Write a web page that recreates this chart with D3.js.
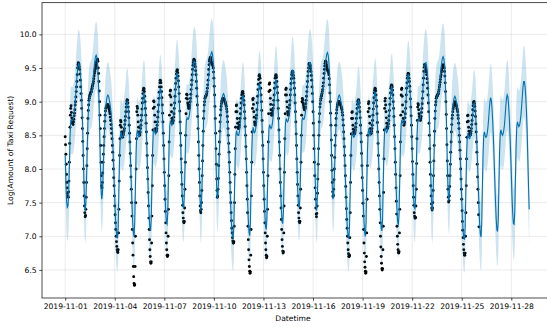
<!DOCTYPE html>
<html>
<head>
<meta charset="utf-8">
<script src="https://cdn.jsdelivr.net/npm/d3@7"></script>
<style>
body { margin: 0; background: #fff; }
svg { display: block; font-family: "DejaVu Sans", sans-serif; }
</style>
</head>
<body>
<script>
// Series start (UTC)
var startDate = "2019-11-01T00:00:00Z";

// Observed log counts (black dots), every 30 minutes, one row per day,
// Nov 1 .. Nov 26 01:00
var observed = [
    [8.48,8.36,8.22,8.07,7.92,7.8,7.72,7.64,7.6,7.58,7.66,7.82,8.1,8.38,8.62,8.8,8.9,8.94,8.84,8.76,8.72,8.68,8.7,8.66,8.7,8.74,8.79,8.83,8.88,8.95,9.0,9.07,9.15,9.22,9.3,9.4,9.5,9.55,9.58,9.57,9.55,9.52,9.48,9.41,9.32,9.22,9.12,9.02],
    [8.9,8.76,8.6,8.41,8.2,8.0,7.8,7.6,7.45,7.35,7.29,7.31,7.4,7.58,7.8,8.05,8.3,8.53,8.75,8.87,8.95,9.02,9.05,9.08,9.1,9.11,9.13,9.14,9.15,9.18,9.2,9.23,9.25,9.27,9.3,9.34,9.38,9.42,9.45,9.48,9.5,9.53,9.55,9.58,9.6,9.62,9.63,9.6],
    [9.5,9.42,9.3,9.16,9.0,8.8,8.6,8.35,8.1,7.9,7.75,7.72,7.8,7.94,8.1,8.22,8.35,8.48,8.6,8.71,8.8,8.86,8.9,8.92,8.92,8.94,8.95,8.96,8.95,8.94,8.93,8.9,8.88,8.85,8.82,8.77,8.72,8.66,8.6,8.53,8.45,8.35,8.25,8.13,8.0,7.87,7.75,7.6],
    [7.45,7.32,7.2,7.1,7.0,6.92,6.85,6.8,6.77,6.76,6.8,7.05,7.4,7.82,8.2,8.45,8.65,8.72,8.7,8.62,8.55,8.51,8.5,8.47,8.5,8.52,8.55,8.57,8.6,8.66,8.72,8.78,8.85,8.92,8.97,9.01,9.03,9.02,8.98,8.92,8.85,8.76,8.65,8.53,8.4,8.23,8.05,7.88],
    [7.7,7.5,7.3,7.1,6.9,6.72,6.55,6.4,6.3,6.27,6.28,6.55,7.0,7.5,8.0,8.45,8.85,8.93,8.9,8.8,8.7,8.62,8.55,8.5,8.5,8.52,8.55,8.6,8.65,8.72,8.8,8.89,8.98,9.05,9.12,9.17,9.2,9.19,9.15,9.08,9.0,8.9,8.8,8.68,8.55,8.38,8.2,8.02],
    [7.85,7.65,7.45,7.27,7.1,6.95,6.8,6.7,6.62,6.6,6.62,6.9,7.3,7.75,8.2,8.58,8.9,9.01,9.0,8.92,8.8,8.7,8.6,8.57,8.55,8.57,8.6,8.65,8.7,8.77,8.85,8.95,9.05,9.14,9.22,9.28,9.32,9.31,9.28,9.22,9.15,9.06,8.95,8.83,8.7,8.53,8.35,8.15],
    [7.95,7.75,7.55,7.37,7.2,7.05,6.9,6.8,6.72,6.7,6.72,7.0,7.4,7.9,8.4,8.8,9.1,9.16,9.17,9.07,8.95,8.85,8.75,8.71,8.68,8.7,8.72,8.77,8.82,8.9,8.98,9.08,9.18,9.27,9.35,9.41,9.45,9.47,9.47,9.43,9.38,9.31,9.22,9.12,9.0,8.86,8.7,8.53],
    [8.35,8.15,7.95,7.77,7.6,7.46,7.35,7.27,7.22,7.2,7.22,7.42,7.7,8.1,8.5,8.82,9.05,9.11,9.1,9.04,8.98,8.95,8.92,8.9,8.9,8.92,8.95,9.0,9.05,9.11,9.18,9.25,9.32,9.4,9.48,9.54,9.58,9.61,9.63,9.62,9.6,9.56,9.52,9.46,9.4,9.3,9.2,9.08],
    [8.95,8.78,8.6,8.4,8.2,8.0,7.8,7.6,7.45,7.38,7.35,7.4,7.5,7.68,7.9,8.12,8.35,8.56,8.75,8.86,8.95,9.0,9.05,9.07,9.08,9.09,9.1,9.12,9.15,9.2,9.25,9.32,9.4,9.48,9.55,9.6,9.63,9.65,9.66,9.63,9.6,9.58,9.57,9.56,9.55,9.53,9.5,9.44],
    [9.35,9.23,9.1,8.93,8.75,8.53,8.3,8.07,7.85,7.68,7.58,7.6,7.7,7.86,8.05,8.22,8.4,8.56,8.7,8.8,8.88,8.93,8.97,9.0,9.02,9.04,9.05,9.05,9.05,9.04,9.03,9.02,9.0,8.99,8.97,8.95,8.93,8.89,8.85,8.78,8.7,8.6,8.5,8.38,8.25,8.1,7.95,7.8],
    [7.65,7.5,7.35,7.23,7.12,7.05,6.98,6.93,6.9,6.9,6.92,7.15,7.5,7.92,8.3,8.62,8.85,8.94,8.95,8.85,8.75,8.68,8.62,8.6,8.6,8.62,8.65,8.7,8.75,8.82,8.9,8.98,9.05,9.1,9.13,9.15,9.15,9.12,9.08,9.02,8.95,8.85,8.75,8.63,8.5,8.33,8.15,7.95],
    [7.75,7.55,7.35,7.15,6.95,6.8,6.65,6.55,6.48,6.45,6.47,6.72,7.1,7.6,8.1,8.55,8.9,9.03,9.05,8.96,8.85,8.77,8.7,8.67,8.65,8.67,8.7,8.75,8.8,8.88,8.98,9.08,9.18,9.26,9.33,9.38,9.4,9.38,9.35,9.28,9.2,9.1,9.0,8.87,8.72,8.55,8.35,8.15],
    [7.95,7.75,7.55,7.37,7.2,7.05,6.9,6.8,6.72,6.68,6.7,7.0,7.4,7.9,8.4,8.82,9.15,9.26,9.28,9.17,9.05,8.96,8.88,8.83,8.8,8.8,8.82,8.86,8.9,8.95,9.02,9.1,9.2,9.28,9.35,9.38,9.4,9.39,9.36,9.3,9.22,9.13,9.02,8.9,8.75,8.58,8.4,8.2],
    [8.0,7.8,7.6,7.42,7.25,7.1,6.95,6.85,6.78,6.75,6.77,7.05,7.45,7.95,8.45,8.82,9.1,9.18,9.2,9.1,9.0,8.92,8.85,8.82,8.8,8.82,8.85,8.9,8.95,9.02,9.1,9.18,9.27,9.34,9.4,9.43,9.45,9.45,9.43,9.39,9.35,9.28,9.2,9.1,8.98,8.85,8.7,8.52],
    [8.35,8.15,7.95,7.77,7.6,7.46,7.35,7.27,7.22,7.2,7.22,7.42,7.7,8.1,8.5,8.8,9.0,9.05,9.03,8.98,8.95,8.92,8.9,8.88,8.88,8.9,8.92,8.97,9.02,9.08,9.15,9.22,9.3,9.38,9.45,9.5,9.55,9.57,9.57,9.55,9.53,9.49,9.45,9.39,9.32,9.22,9.12,9.0],
    [8.85,8.68,8.5,8.3,8.1,7.9,7.72,7.55,7.42,7.33,7.29,7.34,7.45,7.64,7.85,8.07,8.3,8.5,8.7,8.82,8.92,8.97,9.02,9.05,9.08,9.1,9.12,9.15,9.18,9.23,9.28,9.35,9.42,9.48,9.53,9.57,9.6,9.6,9.58,9.55,9.52,9.49,9.47,9.46,9.45,9.43,9.4,9.34],
    [9.25,9.13,9.0,8.83,8.65,8.43,8.2,7.98,7.8,7.66,7.59,7.61,7.7,7.84,8.0,8.17,8.35,8.5,8.65,8.75,8.83,8.88,8.92,8.95,8.97,8.99,9.0,9.0,9.0,8.99,8.98,8.97,8.95,8.94,8.92,8.9,8.88,8.84,8.8,8.73,8.65,8.55,8.45,8.33,8.2,8.05,7.9,7.74],
    [7.58,7.41,7.25,7.12,7.0,6.9,6.8,6.74,6.7,6.7,6.72,6.98,7.35,7.8,8.2,8.52,8.75,8.84,8.85,8.75,8.65,8.59,8.55,8.52,8.52,8.53,8.55,8.58,8.62,8.68,8.75,8.82,8.9,8.96,9.0,9.02,9.03,9.01,8.98,8.92,8.85,8.76,8.65,8.53,8.4,8.23,8.05,7.87],
    [7.68,7.49,7.3,7.1,6.9,6.75,6.62,6.54,6.48,6.45,6.47,6.7,7.05,7.55,8.05,8.5,8.85,8.97,9.0,8.9,8.78,8.68,8.6,8.55,8.52,8.53,8.56,8.6,8.65,8.72,8.8,8.89,8.98,9.06,9.13,9.17,9.2,9.19,9.16,9.1,9.02,8.93,8.82,8.69,8.55,8.38,8.2,8.0],
    [7.8,7.6,7.4,7.2,7.0,6.84,6.7,6.6,6.52,6.5,6.52,6.8,7.15,7.65,8.15,8.58,8.9,9.01,9.05,8.95,8.85,8.76,8.68,8.63,8.6,8.61,8.63,8.67,8.72,8.79,8.87,8.96,9.05,9.13,9.2,9.23,9.25,9.24,9.22,9.17,9.1,9.0,8.9,8.78,8.65,8.48,8.3,8.1],
    [7.92,7.72,7.52,7.33,7.15,7.0,6.88,6.8,6.76,6.75,6.77,7.05,7.4,7.9,8.4,8.8,9.1,9.18,9.2,9.08,8.95,8.85,8.75,8.7,8.65,8.67,8.7,8.76,8.82,8.9,9.0,9.1,9.2,9.28,9.35,9.39,9.42,9.42,9.4,9.35,9.3,9.23,9.15,9.04,8.92,8.79,8.65,8.48],
    [8.3,8.11,7.92,7.75,7.58,7.46,7.35,7.3,7.27,7.27,7.28,7.45,7.7,8.08,8.45,8.72,8.92,8.97,8.95,8.88,8.82,8.78,8.75,8.73,8.72,8.75,8.78,8.84,8.9,8.97,9.05,9.15,9.25,9.35,9.45,9.51,9.55,9.55,9.53,9.5,9.47,9.44,9.4,9.34,9.28,9.2,9.1,8.98],
    [8.85,8.68,8.5,8.3,8.1,7.92,7.75,7.6,7.48,7.42,7.39,7.42,7.5,7.68,7.9,8.12,8.35,8.56,8.75,8.86,8.95,9.0,9.05,9.07,9.08,9.09,9.1,9.11,9.12,9.15,9.18,9.22,9.25,9.29,9.33,9.37,9.4,9.44,9.47,9.5,9.52,9.54,9.55,9.54,9.53,9.5,9.45,9.38],
    [9.28,9.15,9.0,8.81,8.6,8.36,8.12,7.9,7.7,7.58,7.51,7.53,7.6,7.74,7.9,8.07,8.25,8.4,8.55,8.66,8.75,8.8,8.85,8.89,8.92,8.95,8.97,8.99,9.0,8.99,8.98,8.97,8.95,8.93,8.9,8.88,8.85,8.8,8.75,8.68,8.6,8.5,8.4,8.28,8.15,8.0,7.85,7.7],
    [7.55,7.38,7.22,7.09,6.98,6.88,6.8,6.75,6.72,6.72,6.75,7.0,7.35,7.75,8.15,8.47,8.7,8.79,8.8,8.71,8.62,8.56,8.52,8.5,8.5,8.51,8.53,8.56,8.6,8.66,8.72,8.8,8.88,8.94,8.98,9.0,9.0,8.97,8.93,8.86,8.78,8.67,8.55,8.4,8.25,8.07,7.88,7.7],
    [7.5,7.32,7.14]
];

// Model fit and forecast (blue line), hourly, Nov 1 .. Nov 29 02:00
var yhat = [
    [8.2,7.8,7.52,7.43,7.45,7.62,8.02,8.47,8.7,8.73,8.72,8.72,8.76,8.83,8.93,9.06,9.21,9.36,9.48,9.56,9.57,9.52,9.43,9.28],
    [9.05,8.75,8.35,7.9,7.52,7.38,7.5,7.85,8.3,8.7,8.92,9.02,9.08,9.1,9.12,9.17,9.25,9.38,9.5,9.6,9.67,9.69,9.66,9.56],
    [9.35,9.05,8.62,8.12,7.72,7.55,7.62,7.9,8.25,8.55,8.78,8.92,9.02,9.08,9.1,9.08,9.03,8.97,8.9,8.8,8.64,8.42,8.15,7.85],
    [7.55,7.28,7.1,7.0,6.97,7.15,7.7,8.2,8.48,8.55,8.5,8.47,8.48,8.53,8.6,8.7,8.83,8.95,9.0,8.97,8.85,8.65,8.4,8.1],
    [7.78,7.48,7.22,7.05,7.0,7.2,7.75,8.25,8.52,8.58,8.52,8.48,8.5,8.55,8.63,8.75,8.9,9.04,9.12,9.1,8.98,8.78,8.52,8.2],
    [7.86,7.55,7.3,7.12,7.08,7.25,7.8,8.3,8.56,8.6,8.55,8.52,8.54,8.6,8.68,8.8,8.97,9.12,9.2,9.17,9.05,8.86,8.6,8.3],
    [7.97,7.64,7.38,7.2,7.18,7.35,7.88,8.38,8.65,8.72,8.68,8.65,8.67,8.73,8.82,8.97,9.15,9.32,9.42,9.42,9.33,9.18,8.96,8.66],
    [8.28,7.9,7.6,7.45,7.42,7.6,8.02,8.47,8.72,8.76,8.74,8.74,8.78,8.85,8.96,9.1,9.26,9.42,9.54,9.6,9.6,9.55,9.46,9.3],
    [9.07,8.77,8.37,7.92,7.53,7.38,7.5,7.85,8.3,8.72,8.95,9.05,9.1,9.12,9.15,9.2,9.3,9.43,9.56,9.66,9.72,9.74,9.7,9.6],
    [9.38,9.08,8.65,8.14,7.73,7.56,7.63,7.92,8.27,8.58,8.8,8.95,9.05,9.1,9.12,9.1,9.05,8.99,8.92,8.82,8.66,8.44,8.17,7.87],
    [7.57,7.29,7.1,7.0,6.97,7.15,7.7,8.2,8.5,8.57,8.52,8.5,8.5,8.55,8.63,8.75,8.9,9.03,9.1,9.07,8.95,8.75,8.48,8.16],
    [7.82,7.5,7.24,7.06,7.01,7.2,7.75,8.25,8.55,8.62,8.57,8.54,8.56,8.62,8.72,8.86,9.03,9.18,9.26,9.24,9.12,8.92,8.64,8.3],
    [7.93,7.6,7.33,7.14,7.1,7.27,7.8,8.32,8.6,8.66,8.62,8.6,8.62,8.68,8.78,8.92,9.1,9.25,9.33,9.3,9.18,8.98,8.7,8.38],
    [8.02,7.67,7.4,7.22,7.19,7.36,7.9,8.4,8.68,8.75,8.72,8.7,8.72,8.78,8.88,9.03,9.22,9.38,9.47,9.46,9.36,9.2,8.98,8.68],
    [8.3,7.92,7.62,7.46,7.43,7.6,8.03,8.48,8.72,8.76,8.74,8.74,8.78,8.85,8.96,9.1,9.26,9.41,9.53,9.58,9.58,9.53,9.44,9.28],
    [9.06,8.76,8.36,7.91,7.52,7.38,7.5,7.85,8.3,8.72,8.95,9.05,9.1,9.12,9.15,9.2,9.3,9.43,9.55,9.65,9.71,9.73,9.69,9.59],
    [9.37,9.07,8.64,8.13,7.72,7.55,7.62,7.9,8.25,8.56,8.78,8.93,9.03,9.08,9.1,9.08,9.03,8.97,8.9,8.8,8.64,8.42,8.15,7.85],
    [7.55,7.28,7.1,7.0,6.97,7.15,7.7,8.2,8.48,8.55,8.5,8.47,8.48,8.53,8.6,8.7,8.84,8.97,9.03,9.0,8.88,8.68,8.42,8.12],
    [7.8,7.49,7.23,7.05,7.0,7.2,7.75,8.25,8.53,8.6,8.54,8.5,8.52,8.57,8.65,8.78,8.94,9.08,9.15,9.12,9.0,8.8,8.54,8.22],
    [7.88,7.56,7.3,7.12,7.08,7.25,7.8,8.3,8.57,8.62,8.57,8.54,8.56,8.62,8.7,8.84,9.0,9.15,9.22,9.2,9.08,8.9,8.64,8.33],
    [7.98,7.64,7.38,7.2,7.18,7.35,7.88,8.38,8.66,8.73,8.7,8.67,8.69,8.75,8.85,8.99,9.16,9.32,9.4,9.4,9.31,9.16,8.94,8.64],
    [8.26,7.88,7.58,7.43,7.41,7.58,8.02,8.47,8.71,8.74,8.73,8.73,8.77,8.84,8.95,9.08,9.24,9.39,9.51,9.57,9.58,9.53,9.44,9.28],
    [9.05,8.75,8.35,7.9,7.52,7.38,7.5,7.85,8.3,8.7,8.92,9.02,9.08,9.1,9.12,9.17,9.26,9.38,9.5,9.59,9.65,9.67,9.64,9.54],
    [9.33,9.03,8.6,8.1,7.7,7.53,7.6,7.88,8.23,8.53,8.76,8.9,9.0,9.06,9.08,9.06,9.01,8.95,8.88,8.78,8.62,8.4,8.13,7.83],
    [7.53,7.26,7.08,6.98,6.95,7.13,7.68,8.18,8.46,8.53,8.48,8.45,8.46,8.51,8.58,8.68,8.81,8.93,8.98,8.95,8.83,8.63,8.38,8.08],
    [7.76,7.45,7.19,7.03,6.99,7.18,7.73,8.22,8.5,8.55,8.5,8.47,8.48,8.53,8.61,8.73,8.88,9.0,9.06,9.02,8.9,8.71,8.46,8.16],
    [7.83,7.52,7.27,7.1,7.07,7.23,7.77,8.27,8.53,8.58,8.53,8.5,8.52,8.57,8.65,8.78,8.93,9.05,9.1,9.07,8.96,8.78,8.54,8.25],
    [7.93,7.6,7.35,7.19,7.18,7.34,7.86,8.35,8.63,8.7,8.66,8.63,8.65,8.71,8.8,8.93,9.08,9.22,9.3,9.3,9.22,9.07,8.86,8.58],
    [8.15,7.75,7.4]
];

// Half width of the uncertainty band, one value per day
var halfWidth = [
    0.5, 0.5, 0.49, 0.5, 0.5, 0.5, 0.5, 0.51, 0.5, 0.5,
    0.49, 0.5, 0.5, 0.5, 0.5, 0.5, 0.5, 0.5, 0.5, 0.5,
    0.5, 0.5, 0.5, 0.5, 0.5, 0.51, 0.52, 0.53, 0.54
];

var xTickLabels = ["2019-11-01", "2019-11-04", "2019-11-07", "2019-11-10",
    "2019-11-13", "2019-11-16", "2019-11-19", "2019-11-22", "2019-11-25",
    "2019-11-28"];
var yTickValues = [6.5, 7.0, 7.5, 8.0, 8.5, 9.0, 9.5, 10.0];

// ---------------------------------------------------------------------------
var W = 547, H = 327;
var margin = {top: 2.7, left: 42, bottom: 29};
var width = 510.4,               // axes run a little past the right edge
    height = H - margin.top - margin.bottom;

var svg = d3.select("body").append("svg")
    .attr("width", W)
    .attr("height", H);

var g = svg.append("g")
    .attr("transform", "translate(" + margin.left + "," + margin.top + ")");

var t0 = new Date(startDate).getTime();
var MIN = 60 * 1000;

// turn the day rows into timed records; step is minutes between samples
function flatten(rows, step) {
    var perDay = 24 * 60 / step;
    var out = [];
    rows.forEach(function(row, d) {
        row.forEach(function(v, k) {
            out.push({date: new Date(t0 + (d * perDay + k) * step * MIN),
                      day: d, value: v});
        });
    });
    return out;
}
var obs = flatten(observed, 30);
var fc = flatten(yhat, 60);

// matplotlib style 5% margins on the time range
var ext = d3.extent(fc, function(d) { return d.date; });
var pad = (ext[1] - ext[0]) * 0.05;
var xScale = d3.scaleUtc()
    .domain([new Date(+ext[0] - pad), new Date(+ext[1] + pad)])
    .range([0, width]);
var yScale = d3.scaleLinear().domain([6.083, 10.471]).range([height, 0]);

var xAxis = d3.axisBottom(xScale)
    .tickValues(xTickLabels.map(function(s) { return new Date(s + "T00:00:00Z"); }))
    .tickFormat(d3.utcFormat("%Y-%m-%d"))
    .tickSizeOuter(0).tickSize(2.7).tickPadding(2.7);
var yAxis = d3.axisLeft(yScale)
    .tickValues(yTickValues)
    .tickFormat(d3.format(".1f"))
    .tickSizeOuter(0).tickSize(2.7).tickPadding(2.7);

// grid
g.append("g").selectAll("line").data(xAxis.tickValues()).enter().append("line")
    .attr("x1", function(d) { return xScale(d); })
    .attr("x2", function(d) { return xScale(d); })
    .attr("y1", 0).attr("y2", height)
    .attr("stroke", "#808080").attr("stroke-opacity", 0.2).attr("stroke-width", 0.8);
g.append("g").selectAll("line").data(yTickValues).enter().append("line")
    .attr("y1", function(d) { return yScale(d); })
    .attr("y2", function(d) { return yScale(d); })
    .attr("x1", 0).attr("x2", width)
    .attr("stroke", "#808080").attr("stroke-opacity", 0.2).attr("stroke-width", 0.8);

// observed points first, then the fitted line, then the band over both
g.append("g").selectAll("circle").data(obs).enter().append("circle")
    .attr("cx", function(d) { return xScale(d.date); })
    .attr("cy", function(d) { return yScale(d.value); })
    .attr("r", 1.45)
    .attr("fill", "#000");

var line = d3.line()
    .x(function(d) { return xScale(d.date); })
    .y(function(d) { return yScale(d.value); });
g.append("path").datum(fc)
    .attr("d", line)
    .attr("fill", "none")
    .attr("stroke", "#0072B2")
    .attr("stroke-width", 1.1);

var band = d3.area()
    .x(function(d) { return xScale(d.date); })
    .y0(function(d) { return yScale(d.value - halfWidth[d.day]); })
    .y1(function(d) { return yScale(d.value + halfWidth[d.day]); });
g.append("path").datum(fc)
    .attr("d", band)
    .attr("fill", "#0072B2")
    .attr("fill-opacity", 0.2);

// axes
var gx = g.append("g")
    .attr("transform", "translate(0," + height + ")")
    .call(xAxis);
var gy = g.append("g").call(yAxis);
[gx, gy].forEach(function(a) {
    a.select(".domain").remove();
    a.selectAll(".tick line").attr("stroke", "#000").attr("stroke-width", 0.7);
    a.selectAll("text").attr("font-size", "7.6px").attr("fill", "#000")
        .attr("font-family", "DejaVu Sans, sans-serif");
});

// spines
g.append("rect")
    .attr("x", 0).attr("y", 0)
    .attr("width", width).attr("height", height)
    .attr("fill", "none").attr("stroke", "#000").attr("stroke-width", 0.7);

// axis labels
svg.append("text")
    .attr("x", 293).attr("y", 321)
    .attr("text-anchor", "middle")
    .attr("font-size", "7.6px")
    .text("Datetime");
svg.append("text")
    .attr("text-anchor", "middle")
    .attr("transform", "translate(13," + (margin.top + height / 2) + ")rotate(-90)")
    .attr("font-size", "7.6px")
    .text("Log(Amount of Taxi Request)");
</script>
</body>
</html>
